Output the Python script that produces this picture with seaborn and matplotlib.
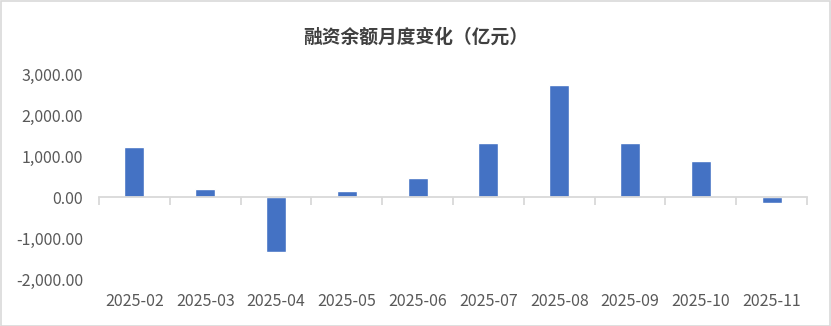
import matplotlib
matplotlib.use("Agg")
import matplotlib.pyplot as plt
import seaborn as sns
import pandas as pd
import numpy as np
from matplotlib.ticker import FuncFormatter, FixedLocator
from matplotlib.patches import Rectangle

months = ["2025-02", "2025-03", "2025-04", "2025-05", "2025-06",
          "2025-07", "2025-08", "2025-09", "2025-10", "2025-11"]
values = [1220, 205, -1330, 135, 465, 1320, 2730, 1320, 880, -135]
yticks = [-2000, -1000, 0, 1000, 2000, 3000]
title = "融资余额月度变化（亿元）"

sns.set_theme(style="white")
plt.rcParams['font.family'] = ['Noto Sans CJK SC', 'DejaVu Sans']

W, H = 831, 326
fig = plt.figure(figsize=(W / 100, H / 100), dpi=100)
left, right, top, bottom = 99, 807, 74, 279
ax = fig.add_axes([left / W, 1 - bottom / H, (right - left) / W, (bottom - top) / H])

df = pd.DataFrame({"month": months, "value": values})
sns.barplot(data=df, x="month", y="value", color="#4472C4", width=0.28,
            saturation=1, ax=ax)

ax.set_xlim(-0.5, len(months) - 0.5)
ax.set_ylim(yticks[0], yticks[-1])
ax.set_yticks(yticks)
ax.yaxis.set_major_formatter(FuncFormatter(lambda v, p: f"{v:,.2f}"))
ax.set_xlabel("")
ax.set_ylabel("")

for s in ["left", "right", "top"]:
    ax.spines[s].set_visible(False)
ax.spines["bottom"].set_position(("data", 0))
ax.spines["bottom"].set_color("#D9D9D9")
ax.spines["bottom"].set_linewidth(1.3)

ax.xaxis.set_minor_locator(FixedLocator(np.arange(len(months) + 1) - 0.5))
ax.tick_params(axis="x", which="major", length=0, pad=69, labelsize=11.5,
               labelcolor="#595959")
ax.tick_params(axis="x", which="minor", length=6, width=1.3, color="#D9D9D9",
               direction="out", bottom=True)
ax.tick_params(axis="y", length=0, pad=11.5, labelsize=11.5, labelcolor="#595959")

fig.text(0.5, 1 - 37 / H, title, ha="center", va="center", fontsize=13.5,
         fontweight="bold", color="#404040")

fig.patches.append(Rectangle((0.5 / W, 0.5 / H), 1 - 1.5 / W, 1 - 1.5 / H,
                             transform=fig.transFigure, fill=False,
                             edgecolor="#D9D9D9", linewidth=1.2))

fig.savefig("out.png", dpi=100)
